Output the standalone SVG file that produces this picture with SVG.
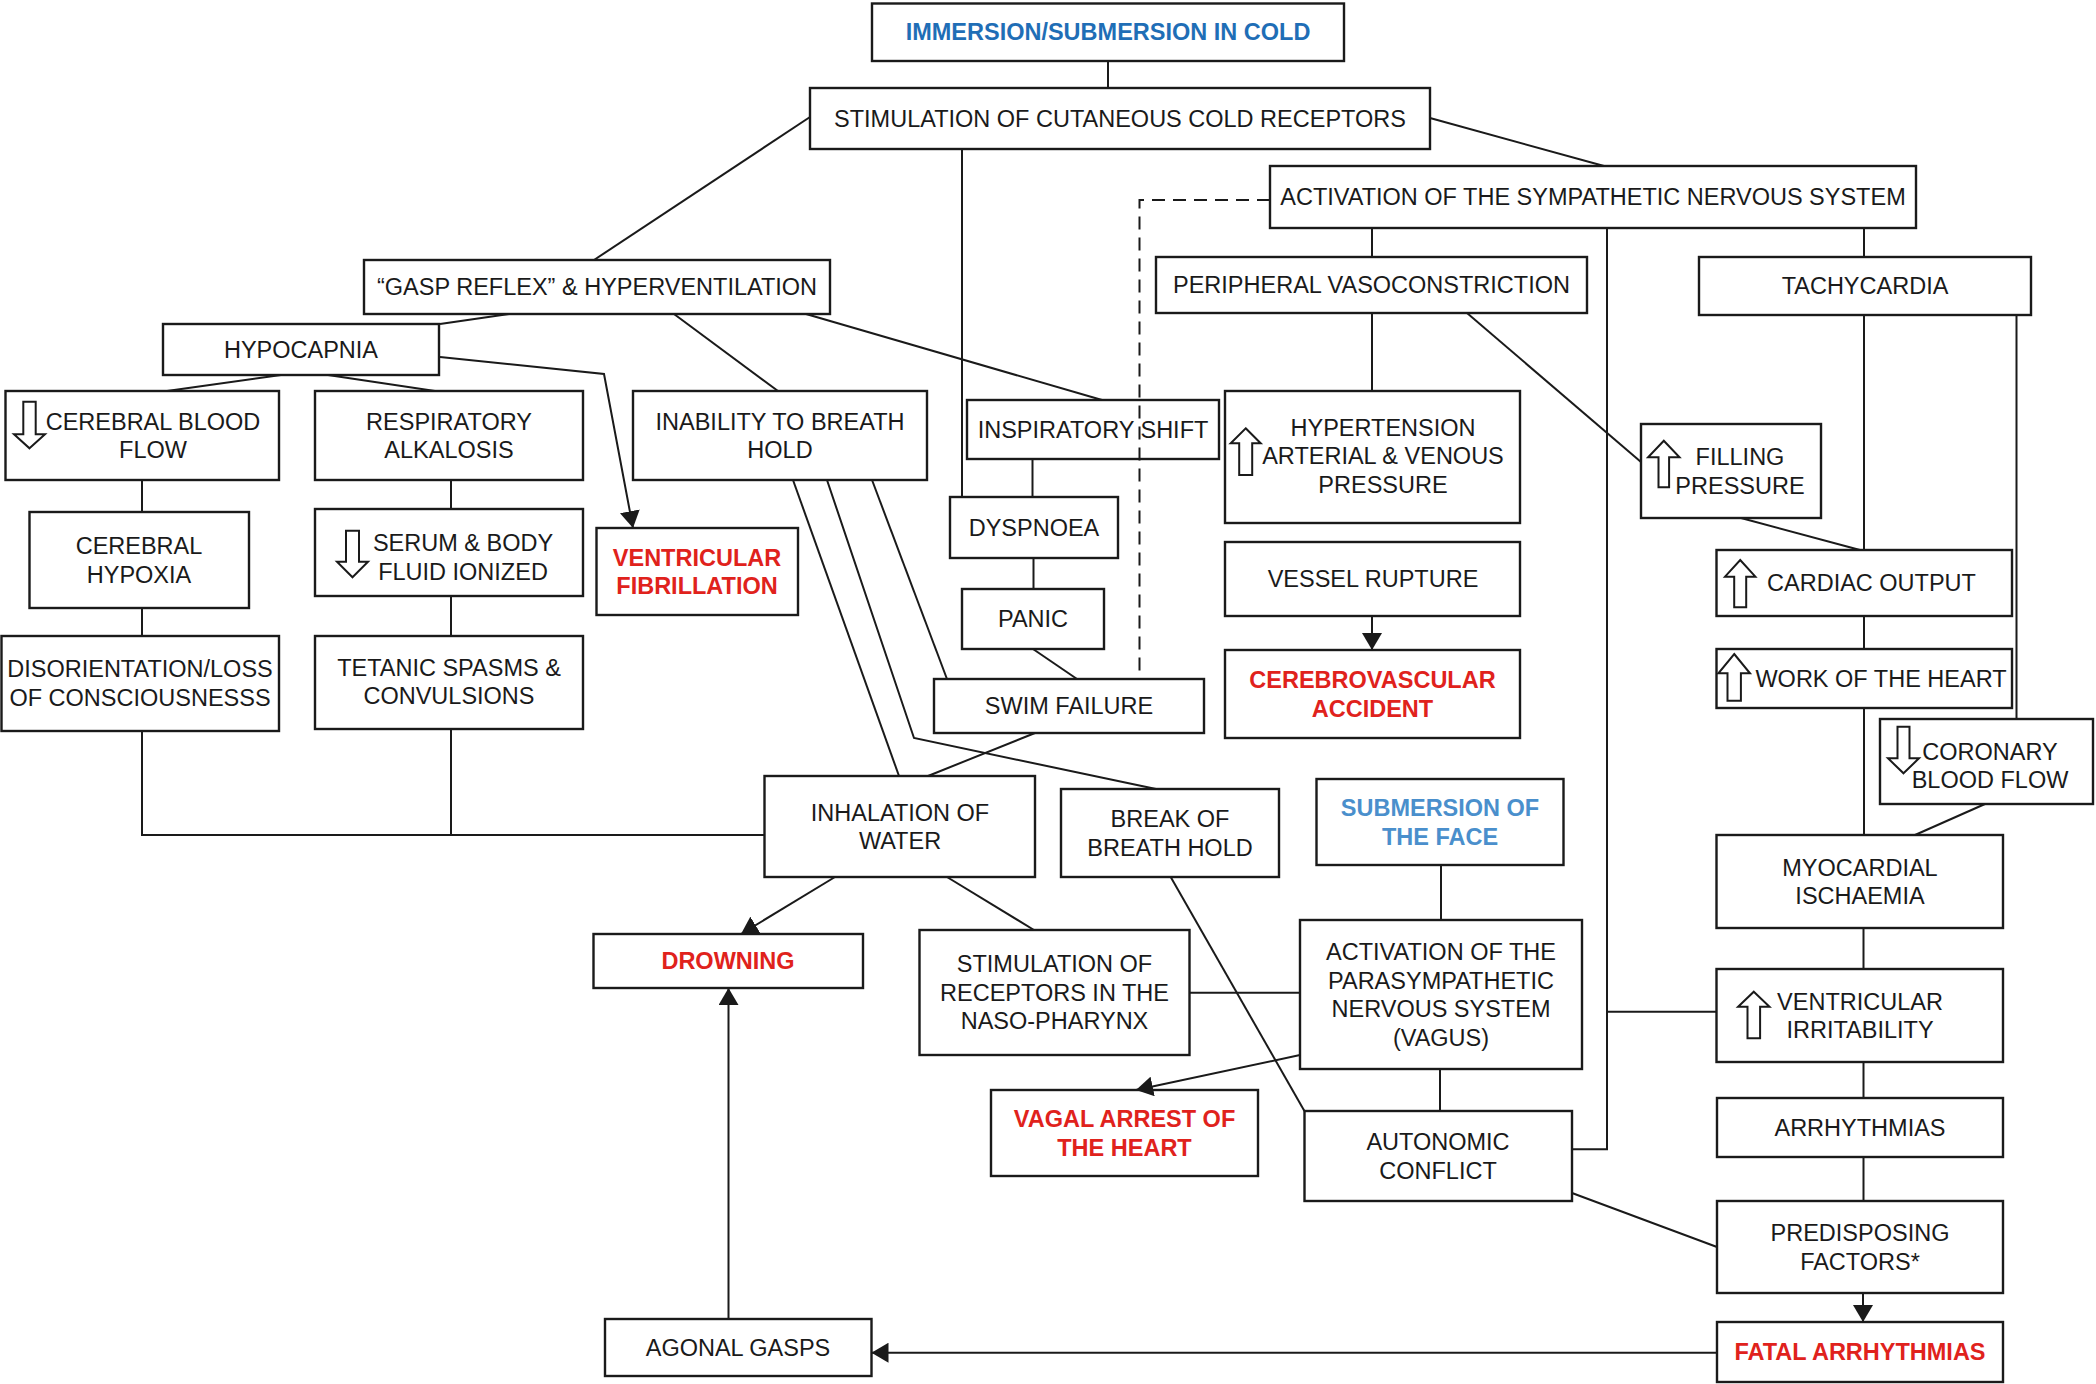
<svg xmlns="http://www.w3.org/2000/svg" width="2096" height="1384" viewBox="0 0 2096 1384">
<style>
.box{fill:#fff;stroke:#1a1a1a;stroke-width:2.4}
.t{font-family:"Liberation Sans",Arial,Helvetica,sans-serif;font-size:23.5px;fill:#1a1a1a;text-anchor:middle}
.red{fill:#e0221c;font-weight:bold}
.blue{fill:#1f6eb6;font-weight:bold}
.lblue{fill:#4a8fcc;font-weight:bold}
.ln{stroke:#1a1a1a;stroke-width:2;fill:none}
.dash{stroke-dasharray:13 8}
.ico{fill:#fff;stroke:#1a1a1a;stroke-width:2}
</style>
<defs>
<marker id="ah" markerUnits="userSpaceOnUse" markerWidth="18" markerHeight="20" refX="17" refY="10" orient="auto"><path d="M0,0 L17,10 L0,20 Z" fill="#1a1a1a"/></marker>
</defs>
<rect width="2096" height="1384" fill="#fff"/>
<g id="nodes">
<g id="immersion"><rect class="box" x="872" y="3.5" width="472" height="57.5"/><text class="t blue" x="1108" y="40.4">IMMERSION/SUBMERSION IN COLD</text></g>
<g id="stimulation"><rect class="box" x="810" y="88" width="620" height="61"/><text class="t" x="1120" y="126.9">STIMULATION OF CUTANEOUS COLD RECEPTORS</text></g>
<g id="activation-sns"><rect class="box" x="1270" y="166" width="646" height="62"/><text class="t" x="1593" y="205.4">ACTIVATION OF THE SYMPATHETIC NERVOUS SYSTEM</text></g>
<g id="gasp"><rect class="box" x="364" y="260" width="466" height="54"/><text class="t" x="597" y="295.4">“GASP REFLEX” &amp; HYPERVENTILATION</text></g>
<g id="peripheral"><rect class="box" x="1156" y="257" width="431" height="56"/><text class="t" x="1371.5" y="293.4">PERIPHERAL VASOCONSTRICTION</text></g>
<g id="tachycardia"><rect class="box" x="1699" y="257" width="332" height="58"/><text class="t" x="1865" y="294.4">TACHYCARDIA</text></g>
<g id="hypocapnia"><rect class="box" x="163" y="324" width="276" height="51"/><text class="t" x="301" y="357.9">HYPOCAPNIA</text></g>
<g id="cbf"><rect class="box" x="5.5" y="391" width="273.5" height="89"/><path class="ico" d="M29.5,448.3 L45,434.3 L35.7,434.3 L35.7,401.7 L23.3,401.7 L23.3,434.3 L14,434.3 Z"/><text class="t" x="153" y="429.6">CEREBRAL BLOOD</text><text class="t" x="153" y="458.1">FLOW</text></g>
<g id="resp-alk"><rect class="box" x="315" y="391" width="268" height="89"/><text class="t" x="449" y="429.6">RESPIRATORY</text><text class="t" x="449" y="458.1">ALKALOSIS</text></g>
<g id="inability"><rect class="box" x="633" y="391" width="294" height="89"/><text class="t" x="780" y="429.6">INABILITY TO BREATH</text><text class="t" x="780" y="458.1">HOLD</text></g>
<g id="inspiratory"><rect class="box" x="967" y="400" width="252" height="59"/><text class="t" x="1093" y="437.9">INSPIRATORY SHIFT</text></g>
<g id="hypertension"><rect class="box" x="1225" y="391" width="295" height="132"/><path class="ico" d="M1245.7,428.3 L1260.7,443.3 L1252.2,443.3 L1252.2,475 L1239.2,475 L1239.2,443.3 L1230.7,443.3 Z"/><text class="t" x="1383" y="435.5">HYPERTENSION</text><text class="t" x="1383" y="464">ARTERIAL &amp; VENOUS</text><text class="t" x="1383" y="492.5">PRESSURE</text></g>
<g id="filling"><rect class="box" x="1641" y="424" width="180" height="94"/><path class="ico" d="M1663.8,440.7 L1679.5,457.3 L1669.1,457.3 L1669.1,487.3 L1658.5,487.3 L1658.5,457.3 L1648.1,457.3 Z"/><text class="t" x="1740" y="465.2">FILLING</text><text class="t" x="1740" y="493.7">PRESSURE</text></g>
<g id="dyspnoea"><rect class="box" x="950" y="497" width="168" height="61"/><text class="t" x="1034" y="535.9">DYSPNOEA</text></g>
<g id="panic"><rect class="box" x="962" y="589" width="142" height="60"/><text class="t" x="1033" y="627.4">PANIC</text></g>
<g id="vf"><rect class="box" x="596.5" y="528" width="201.5" height="87"/><text class="t red" x="697" y="565.5">VENTRICULAR</text><text class="t red" x="697" y="594">FIBRILLATION</text></g>
<g id="vessel"><rect class="box" x="1225" y="542" width="295" height="74"/><text class="t" x="1373" y="587.4">VESSEL RUPTURE</text></g>
<g id="cerebrovascular"><rect class="box" x="1225" y="650" width="295" height="88"/><text class="t red" x="1372.5" y="688.2">CEREBROVASCULAR</text><text class="t red" x="1372.5" y="716.7">ACCIDENT</text></g>
<g id="swim"><rect class="box" x="934" y="679" width="270" height="54"/><text class="t" x="1069" y="714.4">SWIM FAILURE</text></g>
<g id="cardiac"><rect class="box" x="1716.5" y="550" width="295.5" height="66"/><path class="ico" d="M1740.2,560 L1755.4,576.7 L1746.2,576.7 L1746.2,607.3 L1734.2,607.3 L1734.2,576.7 L1725,576.7 Z"/><text class="t" x="1871.5" y="591.4">CARDIAC OUTPUT</text></g>
<g id="work"><rect class="box" x="1716.5" y="649" width="295.5" height="59"/><path class="ico" d="M1734.2,654 L1750,673.3 L1740.9,673.3 L1740.9,700.7 L1727.5,700.7 L1727.5,673.3 L1718.4,673.3 Z"/><text class="t" x="1881" y="686.9">WORK OF THE HEART</text></g>
<g id="coronary"><rect class="box" x="1880" y="719" width="213" height="85"/><path class="ico" d="M1903.5,773.3 L1919,758.3 L1909.5,758.3 L1909.5,726.7 L1897.5,726.7 L1897.5,758.3 L1888,758.3 Z"/><text class="t" x="1990" y="759.5">CORONARY</text><text class="t" x="1990" y="788">BLOOD FLOW</text></g>
<g id="cerebral-hypoxia"><rect class="box" x="29.5" y="512" width="219.5" height="96"/><text class="t" x="139" y="554.2">CEREBRAL</text><text class="t" x="139" y="582.7">HYPOXIA</text></g>
<g id="serum"><rect class="box" x="315" y="509" width="268" height="87"/><path class="ico" d="M352.5,577.3 L368,561.7 L359,561.7 L359,530.7 L346,530.7 L346,561.7 L337,561.7 Z"/><text class="t" x="463" y="550.5">SERUM &amp; BODY</text><text class="t" x="463" y="579.5">FLUID IONIZED</text></g>
<g id="disorientation"><rect class="box" x="1.5" y="636" width="277.5" height="95"/><text class="t" x="140" y="677">DISORIENTATION/LOSS</text><text class="t" x="140" y="705.5">OF CONSCIOUSNESSS</text></g>
<g id="tetanic"><rect class="box" x="315" y="636" width="268" height="93"/><text class="t" x="449" y="675.5">TETANIC SPASMS &amp;</text><text class="t" x="449" y="704">CONVULSIONS</text></g>
<g id="inhalation"><rect class="box" x="764.5" y="776" width="270.5" height="101"/><text class="t" x="900" y="820.7">INHALATION OF</text><text class="t" x="900" y="849.2">WATER</text></g>
<g id="break"><rect class="box" x="1061" y="789" width="218" height="88"/><text class="t" x="1170" y="827.2">BREAK OF</text><text class="t" x="1170" y="855.7">BREATH HOLD</text></g>
<g id="submersion-face"><rect class="box" x="1316.5" y="779" width="247" height="86"/><text class="t lblue" x="1440" y="816.2">SUBMERSION OF</text><text class="t lblue" x="1440" y="844.7">THE FACE</text></g>
<g id="myocardial"><rect class="box" x="1716.5" y="835" width="286.5" height="93"/><text class="t" x="1860" y="875.7">MYOCARDIAL</text><text class="t" x="1860" y="904.2">ISCHAEMIA</text></g>
<g id="drowning"><rect class="box" x="593.5" y="934" width="269.5" height="54"/><text class="t red" x="728" y="969.4">DROWNING</text></g>
<g id="naso"><rect class="box" x="919.5" y="930" width="270" height="125"/><text class="t" x="1054.5" y="972.4">STIMULATION OF</text><text class="t" x="1054.5" y="1000.9">RECEPTORS IN THE</text><text class="t" x="1054.5" y="1029.4">NASO-PHARYNX</text></g>
<g id="parasympathetic"><rect class="box" x="1300" y="920" width="282" height="149"/><text class="t" x="1441" y="960.2">ACTIVATION OF THE</text><text class="t" x="1441" y="988.7">PARASYMPATHETIC</text><text class="t" x="1441" y="1017.2">NERVOUS SYSTEM</text><text class="t" x="1441" y="1045.7">(VAGUS)</text></g>
<g id="ventricular-irritability"><rect class="box" x="1716.5" y="969" width="286.5" height="93"/><path class="ico" d="M1753.8,991.7 L1769.5,1006.7 L1760.1,1006.7 L1760.1,1038.3 L1747.5,1038.3 L1747.5,1006.7 L1738.1,1006.7 Z"/><text class="t" x="1860" y="1009.7">VENTRICULAR</text><text class="t" x="1860" y="1038.2">IRRITABILITY</text></g>
<g id="arrhythmias"><rect class="box" x="1717" y="1098" width="286" height="59"/><text class="t" x="1860" y="1135.9">ARRHYTHMIAS</text></g>
<g id="predisposing"><rect class="box" x="1717" y="1201" width="286" height="92"/><text class="t" x="1860" y="1241.2">PREDISPOSING</text><text class="t" x="1860" y="1269.7">FACTORS*</text></g>
<g id="fatal"><rect class="box" x="1717" y="1322" width="286" height="60"/><text class="t red" x="1860" y="1360.4">FATAL ARRHYTHMIAS</text></g>
<g id="agonal"><rect class="box" x="605" y="1319" width="266.5" height="57"/><text class="t" x="738" y="1355.9">AGONAL GASPS</text></g>
<g id="vagal"><rect class="box" x="991" y="1090" width="267" height="86"/><text class="t red" x="1124.5" y="1127.2">VAGAL ARREST OF</text><text class="t red" x="1124.5" y="1155.7">THE HEART</text></g>
<g id="autonomic"><rect class="box" x="1304.5" y="1111" width="267.5" height="90"/><text class="t" x="1438" y="1150.2">AUTONOMIC</text><text class="t" x="1438" y="1178.7">CONFLICT</text></g>
</g>
<g id="connectors">
<line class="ln" x1="1108" y1="61" x2="1108" y2="88"/>
<line class="ln" x1="810" y1="117" x2="594" y2="260"/>
<line class="ln" x1="1430" y1="118" x2="1604" y2="166"/>
<line class="ln" x1="962" y1="149" x2="962" y2="497"/>
<line class="ln" x1="1372" y1="228" x2="1372" y2="257"/>
<polyline class="ln" points="1607,228 1607,1149.3 1571.5,1149.3"/>
<line class="ln" x1="1607" y1="1011.7" x2="1716.5" y2="1011.7"/>
<line class="ln" x1="1864" y1="228" x2="1864" y2="257"/>
<polyline class="ln dash" points="1270,200 1139.5,200 1139.5,679"/>
<line class="ln" x1="1372" y1="313" x2="1372" y2="391"/>
<line class="ln" x1="1372" y1="616" x2="1372" y2="650" marker-end="url(#ah)"/>
<line class="ln" x1="1467" y1="313" x2="1641" y2="462"/>
<line class="ln" x1="1864" y1="315" x2="1864" y2="550"/>
<line class="ln" x1="2016.5" y1="315" x2="2016.5" y2="719"/>
<line class="ln" x1="1741" y1="518" x2="1860" y2="550"/>
<line class="ln" x1="1864" y1="616" x2="1864" y2="649"/>
<line class="ln" x1="1864" y1="708" x2="1864" y2="835"/>
<line class="ln" x1="1985" y1="804" x2="1915" y2="835"/>
<line class="ln" x1="1863.5" y1="928" x2="1863.5" y2="969"/>
<line class="ln" x1="1863.5" y1="1062" x2="1863.5" y2="1098"/>
<line class="ln" x1="1863.5" y1="1157" x2="1863.5" y2="1201"/>
<line class="ln" x1="1863" y1="1293" x2="1863" y2="1322" marker-end="url(#ah)"/>
<line class="ln" x1="1717" y1="1352.7" x2="871.5" y2="1352.7" marker-end="url(#ah)"/>
<line class="ln" x1="728.5" y1="1319" x2="728.5" y2="988" marker-end="url(#ah)"/>
<line class="ln" x1="509" y1="314" x2="440" y2="324"/>
<line class="ln" x1="674" y1="314" x2="778" y2="391"/>
<line class="ln" x1="806" y1="314" x2="1102" y2="400"/>
<line class="ln" x1="281" y1="375" x2="167" y2="391"/>
<line class="ln" x1="328" y1="375" x2="435" y2="391"/>
<polyline class="ln" points="440,357 604,374 633,528" marker-end="url(#ah)"/>
<line class="ln" x1="142" y1="480" x2="142" y2="512"/>
<line class="ln" x1="142" y1="608" x2="142" y2="636"/>
<polyline class="ln" points="142,731 142,835 764.5,835"/>
<line class="ln" x1="451" y1="480" x2="451" y2="509"/>
<line class="ln" x1="451" y1="596" x2="451" y2="636"/>
<line class="ln" x1="451" y1="729" x2="451" y2="835"/>
<line class="ln" x1="1032.5" y1="459" x2="1032.5" y2="497"/>
<line class="ln" x1="1033.5" y1="558" x2="1033.5" y2="589"/>
<line class="ln" x1="1033" y1="649" x2="1077" y2="679"/>
<line class="ln" x1="793" y1="480" x2="899" y2="776"/>
<polyline class="ln" points="827,480 914,738 1156,789"/>
<line class="ln" x1="872" y1="480" x2="947" y2="679"/>
<line class="ln" x1="1035" y1="733" x2="928" y2="776"/>
<line class="ln" x1="835" y1="877" x2="741" y2="934" marker-end="url(#ah)"/>
<line class="ln" x1="947" y1="877" x2="1034" y2="930"/>
<line class="ln" x1="1189.5" y1="992.7" x2="1300" y2="992.7"/>
<line class="ln" x1="1441" y1="865" x2="1441" y2="920"/>
<line class="ln" x1="1440" y1="1069" x2="1440" y2="1111"/>
<line class="ln" x1="1300" y1="1055" x2="1136" y2="1090" marker-end="url(#ah)"/>
<line class="ln" x1="1170.7" y1="877" x2="1304.4" y2="1111"/>
<line class="ln" x1="1572" y1="1193" x2="1717" y2="1247"/>
</g>
</svg>
